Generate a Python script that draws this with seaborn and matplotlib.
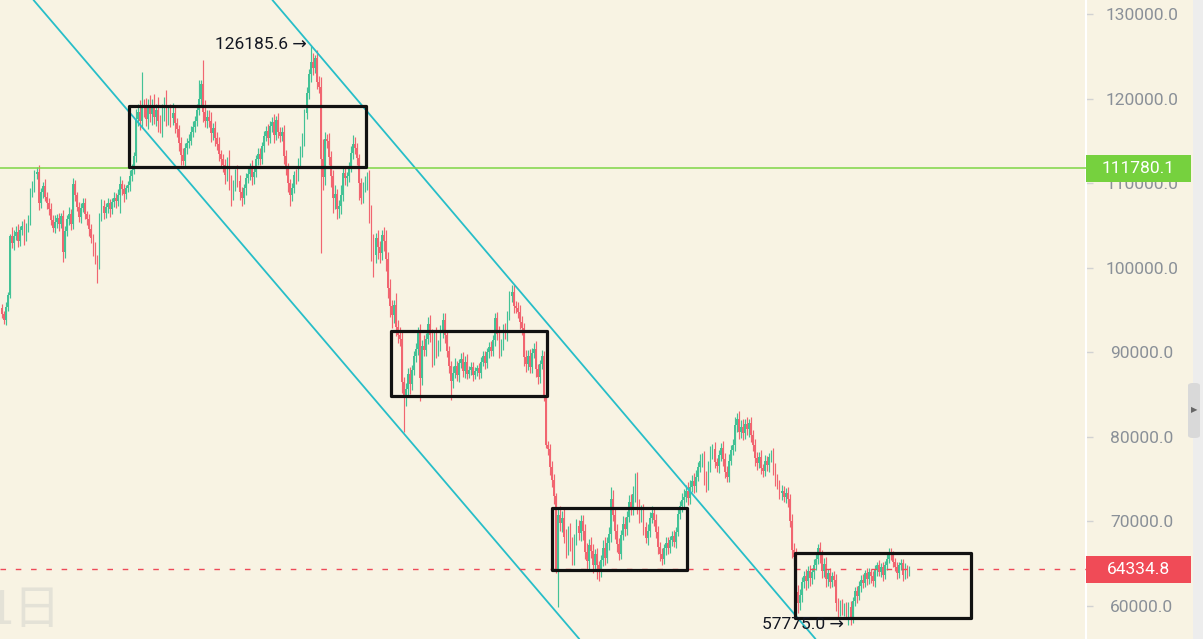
import numpy as np
import pandas as pd
import matplotlib
matplotlib.use('Agg')
import matplotlib.pyplot as plt
import matplotlib.transforms as mtransforms
from matplotlib.patches import Rectangle, FancyBboxPatch
import seaborn as sns

# daily closes, in thousands (open = previous close)
closes_k = [
    94.5, 93.8, 95.4, 96.8, 103.7, 102.9, 103.8, 104.2, 103.1, 104.5,
    104.9, 103.6, 104.8, 105.5, 108.9, 109.6, 111.1, 111.3, 107.6, 108.9,
    109.7, 108.4, 107.7, 107.0, 105.6, 104.7, 105.4, 105.9, 105.2, 106.1,
    101.8, 104.3, 105.7, 106.4, 105.2, 109.9, 108.6, 107.2, 106.0, 107.1,
    107.6, 106.3, 105.8, 104.6, 103.5, 102.3, 101.1, 100.4, 106.0, 107.3,
    106.5, 107.2, 107.6, 106.9, 107.8, 108.3, 107.9, 108.6, 109.9, 109.3,
    108.7, 109.4, 109.8, 110.9, 111.6, 113.2, 117.6, 118.4, 117.3, 119.0,
    118.9, 117.6, 119.1, 118.2, 119.0, 117.8, 118.6, 117.3, 116.8, 118.2,
    119.6, 117.8, 118.5, 117.7, 118.3, 117.1, 116.4, 114.7, 113.3, 112.6,
    114.2, 114.8, 115.0, 116.1, 116.6, 117.4, 118.7, 120.0, 121.7, 118.4,
    117.4, 117.8, 117.3, 115.9, 116.5, 115.3, 114.6, 113.4, 112.9, 112.1,
    111.0, 112.6, 110.2, 108.9, 109.8, 111.2, 110.3, 109.0, 108.2, 109.4,
    110.6, 111.1, 111.9, 110.7, 111.3, 112.8, 113.5, 112.9, 114.4, 115.6,
    116.2, 115.3, 116.8, 117.2, 115.7, 117.5, 116.1, 115.6, 116.0, 113.2,
    111.8, 110.0, 108.6, 109.4, 111.0, 110.8, 112.5, 113.8, 115.2, 118.3,
    120.6, 122.9, 124.3, 123.6, 124.8, 122.0, 121.4, 112.9, 110.7, 115.2,
    115.0, 113.1, 110.8, 108.3, 108.7, 106.9, 107.3, 108.6, 111.2, 110.6,
    110.8, 111.9, 113.6, 114.6, 114.1, 113.0, 110.0, 108.3, 109.6, 110.1,
    110.4, 106.6, 103.3, 101.5, 103.5, 102.4, 101.7, 103.9, 103.2, 101.0,
    97.6, 95.5, 94.4, 95.6, 93.0, 92.1, 91.6, 86.5, 84.6, 85.6,
    87.4, 86.2, 87.9, 89.6, 90.4, 92.6, 87.0, 90.8, 90.3, 91.6,
    93.4, 92.1, 89.3, 91.9, 90.2, 90.7, 92.5, 93.8, 92.0, 90.1,
    88.4, 86.6, 87.6, 88.4, 87.3, 88.7, 89.2, 87.8, 88.9, 87.4,
    87.9, 88.2, 87.3, 87.8, 88.1, 87.6, 88.9, 89.5, 88.7, 90.0,
    90.6, 90.1, 91.5, 94.0, 92.2, 90.2, 91.0, 92.7, 92.1, 94.4,
    96.6, 97.1, 95.5, 95.2, 94.8, 93.6, 92.9, 89.4, 88.6, 89.6,
    88.3, 89.9, 90.4, 88.0, 87.1, 88.6, 89.5, 84.6, 79.0, 78.6,
    76.4, 74.9, 73.0, 64.2, 70.8, 69.8, 70.4, 68.2, 66.9, 68.7,
    67.3, 65.8, 67.9, 69.4, 68.6, 70.1, 68.9, 66.4, 65.3, 67.2,
    66.5, 64.9, 66.1, 64.8, 64.2, 65.4, 66.9, 65.7, 67.4, 68.5,
    72.6, 70.8, 68.9, 67.3, 66.2, 68.4, 69.7, 69.1, 70.5, 72.3,
    71.5, 73.2, 74.6, 71.9, 70.6, 71.2, 69.3, 68.0, 68.9, 70.4,
    71.0, 70.2, 68.7, 67.0, 66.1, 65.6, 66.8, 67.5, 66.9, 67.8,
    68.3, 67.6, 68.8, 70.9, 71.8, 72.5, 72.9, 73.6, 72.8, 74.1,
    74.8, 74.2, 75.3, 76.4, 77.1, 77.6, 75.2, 74.3, 76.6, 78.2,
    78.6, 77.0, 76.5, 77.8, 78.7, 77.4, 75.9, 75.3, 77.2, 78.5,
    79.0, 81.4, 82.1, 80.6, 81.2, 80.4, 81.5, 80.9, 81.6, 80.2,
    79.0, 77.5, 76.9, 77.6, 76.3, 76.0, 77.1, 76.7, 77.6, 77.9,
    76.2, 75.0, 74.4, 73.3, 73.6, 72.9, 73.4, 72.6, 70.1, 66.6,
    65.8, 61.7, 60.4, 61.3, 62.8, 63.6, 62.9, 64.1, 63.3, 64.0,
    64.9, 65.6, 66.8, 66.0, 64.1, 65.0, 63.2, 63.9, 62.8, 63.6,
    63.1, 60.3, 59.4, 60.2, 59.6, 60.0, 59.2, 59.9, 58.7, 60.6,
    61.8, 61.2, 62.4, 63.1, 62.7, 63.9, 63.2, 64.0, 63.5, 62.9,
    64.3, 64.8, 64.0, 64.6, 63.7, 64.9, 65.6, 66.3, 66.1, 65.2,
    64.6, 63.9, 64.8, 65.1, 63.7, 64.6, 63.9, 64.3348,
]
# wick length above / below the body, in thousands
upper_wick_k = [
    0.5, 0.4, 0.6, 0.3, 0.3, 1.1, 0.6, 0.7, 1.0, 0.4,
    0.6, 0.8, 0.5, 0.7, 0.5, 0.6, 0.4, 0.6, 0.9, 0.5,
    0.4, 0.8, 0.6, 0.5, 0.7, 0.6, 0.8, 0.5, 0.6, 0.4,
    0.7, 0.6, 0.5, 0.8, 0.6, 0.7, 0.5, 0.4, 0.6, 0.5,
    0.6, 0.7, 0.4, 0.5, 0.6, 0.5, 0.7, 0.4, 0.5, 0.8,
    0.7, 0.4, 0.6, 0.5, 0.4, 0.6, 0.5, 0.7, 0.9, 0.5,
    0.6, 0.4, 0.5, 0.6, 0.7, 0.5, 1.2, 0.9, 1.4, 4.1,
    1.0, 1.2, 0.8, 1.3, 0.9, 1.5, 0.7, 1.6, 0.8, 1.1,
    0.6, 1.4, 0.7, 0.9, 1.2, 0.8, 0.6, 0.5, 0.7, 0.9,
    0.6, 0.5, 0.8, 0.6, 0.7, 0.5, 0.6, 2.2, 0.5, 2.9,
    1.4, 0.9, 0.8, 1.1, 0.6, 0.9, 0.7, 0.8, 0.5, 0.6,
    0.7, 0.5, 1.3, 0.8, 0.6, 0.5, 0.9, 0.7, 0.6, 0.5,
    0.6, 0.7, 0.5, 0.8, 0.6, 0.5, 0.6, 0.7, 0.5, 0.6,
    0.5, 0.8, 0.6, 0.6, 1.0, 0.4, 0.8, 0.5, 0.6, 0.9,
    0.7, 0.6, 0.5, 0.6, 0.4, 0.7, 0.5, 0.6, 0.7, 0.5,
    0.8, 0.6, 1.9, 1.1, 0.3, 0.9, 0.7, 1.1, 2.3, 0.8,
    0.6, 0.9, 0.7, 0.8, 1.1, 0.6, 0.7, 1.2, 0.6, 0.8,
    0.5, 0.6, 0.8, 1.1, 0.9, 0.7, 0.5, 0.6, 0.5, 0.7,
    0.9, 1.2, 0.8, 0.7, 0.6, 1.0, 0.8, 0.6, 0.9, 1.3,
    0.9, 1.1, 0.7, 0.6, 1.4, 0.8, 0.9, 1.0, 0.6, 0.8,
    0.7, 0.9, 0.6, 0.5, 0.7, 0.4, 0.8, 0.6, 1.2, 0.7,
    0.8, 1.0, 0.7, 0.6, 1.1, 0.8, 0.7, 0.8, 0.9, 0.6,
    0.7, 0.6, 0.8, 0.9, 0.6, 0.5, 0.7, 0.8, 0.6, 0.9,
    0.5, 0.6, 0.7, 0.5, 0.4, 0.6, 0.5, 0.7, 0.6, 0.5,
    0.6, 0.7, 0.5, 0.6, 0.8, 0.9, 0.6, 0.7, 0.8, 0.5,
    0.6, 0.8, 0.9, 0.6, 0.7, 0.8, 0.7, 0.6, 0.9, 0.7,
    0.8, 0.6, 0.7, 0.9, 0.6, 0.5, 0.8, 0.6, 0.7, 0.5,
    0.6, 0.8, 0.7, 0.4, 0.9, 1.0, 0.8, 1.2, 0.9, 0.7,
    1.1, 0.8, 0.6, 0.9, 0.8, 0.7, 0.6, 0.8, 1.0, 0.7,
    0.9, 0.8, 0.6, 0.7, 0.5, 0.6, 0.9, 1.2, 0.7, 0.8,
    1.5, 1.1, 0.9, 0.8, 0.7, 0.6, 0.9, 0.8, 0.7, 0.8,
    0.9, 1.0, 1.1, 1.2, 0.8, 0.7, 0.9, 0.6, 0.8, 0.7,
    0.8, 0.6, 0.7, 0.8, 0.6, 0.7, 0.5, 0.6, 0.7, 0.5,
    0.6, 0.7, 0.5, 0.7, 0.6, 0.8, 0.9, 0.7, 1.0, 0.8,
    0.7, 0.9, 0.8, 0.6, 0.9, 0.5, 0.7, 0.8, 0.6, 0.7,
    0.6, 0.8, 0.5, 0.7, 0.6, 0.8, 0.7, 0.6, 0.8, 0.5,
    0.7, 0.9, 0.7, 1.0, 0.8, 0.9, 0.6, 0.8, 0.5, 0.7,
    0.6, 0.8, 0.7, 0.6, 0.8, 0.5, 0.7, 0.6, 0.5, 0.6,
    0.8, 0.7, 0.6, 0.5, 0.7, 0.6, 0.5, 0.7, 0.6, 0.8,
    0.9, 1.0, 0.8, 0.7, 0.6, 0.5, 0.8, 0.6, 0.7, 0.5,
    0.6, 0.7, 0.5, 0.8, 0.6, 0.7, 0.8, 0.5, 0.6, 0.4,
    0.5, 0.7, 0.6, 0.5, 0.6, 0.4, 0.5, 0.6, 0.7, 0.5,
    0.4, 0.6, 0.5, 0.6, 0.7, 0.4, 0.6, 0.5, 0.4, 0.6,
    0.5, 0.4, 0.6, 0.5, 0.6, 0.4, 0.5, 0.6, 0.5, 0.4,
    0.5, 0.6, 0.4, 0.5, 0.4, 0.5, 0.3, 0.4,
]
lower_wick_k = [
    0.5, 0.4, 0.6, 0.5, 0.4, 0.6, 0.8, 0.5, 0.7, 0.5,
    0.6, 0.9, 0.5, 0.6, 0.4, 0.5, 0.7, 0.6, 0.8, 0.5,
    0.6, 0.5, 0.7, 0.8, 0.6, 0.5, 0.6, 0.7, 0.9, 0.5,
    1.1, 0.6, 0.5, 0.7, 0.8, 0.6, 0.7, 0.5, 0.6, 0.7,
    0.5, 0.6, 0.7, 0.8, 0.6, 0.9, 0.7, 2.2, 0.6, 0.5,
    0.8, 0.6, 0.7, 0.9, 0.5, 0.6, 0.8, 0.6, 2.1, 0.7,
    0.9, 0.6, 0.5, 0.7, 0.6, 0.5, 0.7, 0.9, 1.0, 0.8,
    1.1, 0.9, 1.2, 1.0, 1.3, 0.8, 1.1, 1.2, 0.9, 1.4,
    0.8, 1.0, 0.9, 1.1, 0.8, 1.2, 1.0, 0.9, 1.1, 0.5,
    0.6, 0.8, 0.7, 0.5, 0.6, 0.5, 0.7, 0.6, 0.8, 1.2,
    0.8, 0.9, 0.7, 1.0, 0.8, 0.9, 0.7, 0.8, 0.9, 0.8,
    1.1, 0.8, 1.0, 1.6, 0.9, 0.7, 0.8, 1.0, 0.9, 0.7,
    0.8, 0.6, 0.7, 0.9, 0.8, 0.6, 0.7, 0.8, 0.6, 0.7,
    0.6, 0.8, 0.5, 0.7, 0.9, 0.6, 0.8, 0.7, 0.6, 0.9,
    0.8, 1.1, 1.3, 0.7, 0.6, 0.9, 0.5, 0.6, 0.7, 0.8,
    0.7, 0.6, 0.9, 0.8, 0.6, 0.9, 0.8, 11.2, 1.5, 0.9,
    0.8, 0.9, 1.2, 1.8, 1.4, 1.1, 1.0, 0.9, 0.7, 0.8,
    0.9, 0.7, 0.6, 0.8, 0.7, 0.9, 2.0, 0.8, 0.7, 0.6,
    0.9, 1.3, 2.5, 2.6, 1.0, 1.4, 1.1, 0.8, 1.2, 1.4,
    1.2, 1.3, 1.5, 0.9, 1.1, 1.0, 0.8, 1.3, 4.0, 0.9,
    0.8, 1.1, 0.7, 0.6, 0.8, 0.7, 2.8, 0.9, 0.8, 0.7,
    0.6, 0.9, 1.1, 0.8, 0.9, 0.7, 0.6, 0.8, 0.9, 0.7,
    0.9, 2.2, 0.8, 0.6, 0.7, 0.8, 0.6, 0.7, 0.8, 0.6,
    0.5, 0.6, 0.7, 0.5, 0.6, 0.8, 0.6, 0.5, 0.7, 0.6,
    0.7, 0.6, 0.5, 0.8, 0.7, 0.9, 0.6, 0.7, 0.5, 0.8,
    0.6, 0.7, 0.8, 0.6, 0.7, 0.9, 0.8, 1.0, 0.9, 0.7,
    0.8, 0.7, 0.6, 0.9, 0.8, 0.7, 0.6, 0.4, 0.3, 0.8,
    0.9, 0.8, 1.0, 0.3, 4.3, 0.9, 1.1, 0.8, 1.2, 0.9,
    0.8, 1.0, 0.9, 0.7, 0.8, 0.9, 1.1, 0.8, 1.2, 0.9,
    0.8, 1.0, 0.7, 1.6, 1.2, 0.8, 0.7, 0.9, 0.6, 0.8,
    0.9, 0.8, 1.0, 0.9, 0.8, 0.7, 0.6, 0.8, 0.7, 0.6,
    0.8, 0.7, 0.9, 1.0, 0.8, 0.7, 0.9, 0.6, 0.8, 0.7,
    0.6, 0.8, 0.7, 0.9, 0.8, 0.7, 0.6, 0.8, 0.7, 0.6,
    0.7, 0.6, 0.8, 0.5, 0.6, 0.7, 0.8, 0.6, 0.9, 0.7,
    0.6, 0.8, 0.7, 0.5, 0.6, 0.7, 0.9, 0.8, 0.6, 0.7,
    0.8, 0.7, 0.6, 0.8, 0.7, 0.9, 0.8, 0.6, 0.7, 0.5,
    0.6, 0.7, 0.8, 0.9, 0.7, 0.8, 0.6, 0.7, 0.9, 0.8,
    0.7, 0.9, 0.8, 0.6, 0.7, 0.8, 0.6, 0.7, 0.8, 0.6,
    0.7, 0.8, 0.6, 0.7, 0.8, 0.6, 0.7, 0.9, 0.8, 0.9,
    1.1, 1.2, 1.2, 0.9, 0.8, 0.7, 1.0, 0.8, 0.9, 0.7,
    0.8, 0.7, 0.6, 0.9, 0.8, 0.7, 0.9, 0.8, 0.7, 0.6,
    0.7, 0.9, 0.8, 0.6, 0.7, 0.8, 0.6, 1.4, 0.9, 0.7,
    0.6, 0.8, 0.5, 0.7, 0.6, 0.5, 0.7, 0.6, 0.8, 0.5,
    0.6, 0.7, 0.5, 0.6, 0.7, 0.5, 0.6, 0.5, 0.7, 0.6,
    0.5, 0.7, 0.6, 0.5, 0.7, 0.5, 0.6, 0.4,
]
first_open_k = 95.2

support_level = 111780.1
last_price = 64334.8
peak_label = 126185.6
low_label = 57775.0
price_ticks = [60000, 70000, 80000, 90000, 100000, 110000, 120000, 130000]

# consolidation boxes: (first day, last day, bottom, top)
range_boxes = [
    (62.6, 179.3, 111910, 119120),
    (191.6, 268.5, 84830, 92500),
    (270.9, 337.4, 64250, 71580),
    (390.6, 477.3, 58580, 66260),
]
# descending channel, two anchor points (day, price) per line
channel_upper = [(177.8, 119060), (343.8, 72180)]
channel_lower = [(86.2, 111790), (276.4, 58340)]

BG = '#f8f3e3'
UP = '#43c296'
DOWN = '#f16570'

close = np.array(closes_k) * 1000
opn = np.r_[first_open_k * 1000, close[:-1]]
df = pd.DataFrame({
    'day': np.arange(len(close)),
    'open': opn,
    'close': close,
    'high': np.maximum(opn, close) + np.array(upper_wick_k) * 1000,
    'low': np.minimum(opn, close) - np.array(lower_wick_k) * 1000,
})
df['up'] = df['close'] >= df['open']

sns.set_style('white', {'axes.facecolor': BG, 'figure.facecolor': BG})
plt.rcParams['font.family'] = ['Roboto', 'DejaVu Sans']

W, H = 1203, 639
fig = plt.figure(figsize=(W / 100, H / 100), dpi=100)
ax = fig.add_axes([0, 0, 1086 / W, 1])

colors = np.where(df['up'], UP, DOWN)
ax.vlines(df['day'], df['low'], df['high'], colors=colors, linewidth=0.85, zorder=2)
body = (df['close'] - df['open']).abs().clip(lower=100)
ax.bar(df['day'], body, bottom=np.minimum(df['open'], df['close']),
       width=0.82, color=colors, linewidth=0, zorder=2)

ax.set_xlim(-0.99, 534.0)
ax.set_ylim(56094, 131655)

# channel + levels
ax.axline(*channel_upper, color='#27bec8', lw=1.3, zorder=3)
ax.axline(*channel_lower, color='#27bec8', lw=1.3, zorder=3)
ax.axhline(support_level, color='#7ed646', lw=1.1, zorder=3)
ax.axhline(last_price, color='#ee4a58', lw=1.0, dashes=(4, 7), zorder=3)

for x0, x1, y0, y1 in range_boxes:
    ax.add_patch(Rectangle((x0, y0), x1 - x0, y1 - y0, fill=False,
                           ec='#111111', lw=2.3, joinstyle='round', zorder=4))

pk = df['high'].idxmax()
ax.annotate(f'{peak_label:.1f} →', xy=(df['day'][pk], df['high'][pk]),
            xytext=(-3, 1.5), textcoords='offset points', ha='right', va='center',
            fontsize=12.5, color='#131722', zorder=5)
lo = df['low'].idxmin()
ax.annotate(f'{low_label:.1f} →', xy=(df['day'][lo], df['low'][lo]),
            xytext=(-3, 0), textcoords='offset points', ha='right', va='center',
            fontsize=12.5, color='#131722', zorder=5)

ax.text(-0.011, 0.006, '1日', transform=ax.transAxes, fontsize=34, color='#e4e2d7',
        family=['Noto Sans CJK SC', 'DejaVu Sans'], ha='left', va='bottom', zorder=0)

# right price scale
ax.yaxis.tick_right()
ax.set_yticks(price_ticks)
ax.set_yticklabels([f'{v:.1f}' for v in price_ticks], ha='center')
ax.tick_params(axis='y', labelsize=12.5, labelcolor='#8a9098', color='#d2d2d2',
               length=5, width=1, pad=35)
ax.set_xticks([])
for side in ['top', 'left', 'bottom']:
    ax.spines[side].set_visible(False)
ax.spines['right'].set_color('white')
ax.spines['right'].set_linewidth(1.5)

# price tags on the scale
tag = mtransforms.blended_transform_factory(fig.transFigure, ax.transData)
px = (131655 - 56094) / H
for level, col in [(support_level, '#76d13e'), (last_price, '#f04b57')]:
    fig.add_artist(Rectangle((1086 / W, level - 13.5 * px), 105 / W, 27 * px,
                             transform=tag, color=col, lw=0, zorder=5))
    fig.text(1138.5 / W, level, f'{level:.1f}', transform=tag, ha='center',
             va='center', fontsize=12.5, color='white', zorder=6)

# side panel with collapse button
fig.add_artist(Rectangle((1193 / W, 0), 10 / W, 1, transform=fig.transFigure,
                         color='#ededed', lw=0, zorder=5))
fig.add_artist(FancyBboxPatch((1188 / W, 1 - 438 / H), 12 / W, 55 / H,
                              boxstyle='round,pad=0,rounding_size=0.004',
                              transform=fig.transFigure, color='#d9d9d9', lw=0, zorder=6))
fig.text(1194.5 / W, 1 - 410 / H, '▶', ha='center', va='center', fontsize=6,
         color='#666666', family=['DejaVu Sans'], zorder=7)

fig.savefig('out.png', dpi=100, facecolor=BG)
